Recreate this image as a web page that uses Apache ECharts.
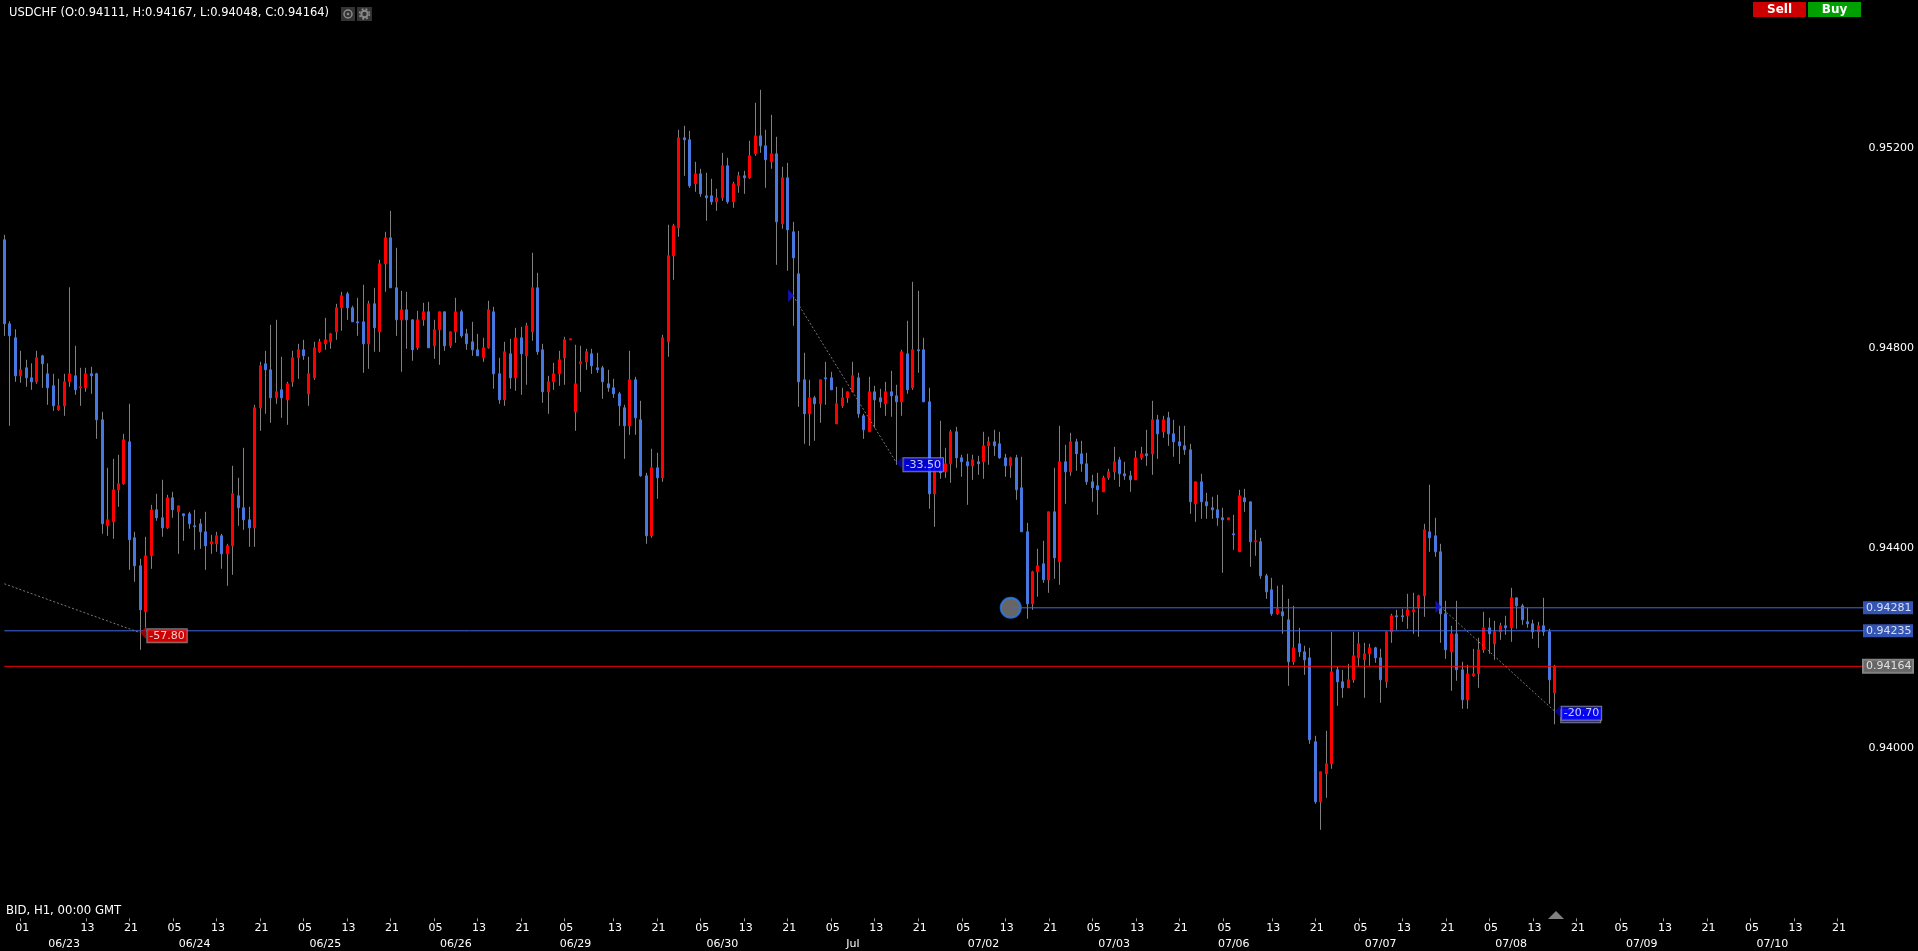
<!DOCTYPE html>
<html><head><meta charset="utf-8">
<style>html,body{margin:0;padding:0;background:#000;overflow:hidden}#c{width:1918px;height:951px}</style>
<script src="https://cdn.jsdelivr.net/npm/echarts@6/dist/echarts.min.js"></script>
</head><body><div id="c"></div>
<script>
const opens=[0.95017,0.94849,0.94821,0.94745,0.94761,0.94741,0.94733,0.94785,0.94749,0.94725,
0.94677,0.94685,0.94733,0.94745,0.94721,0.94721,0.94749,0.94749,0.94657,0.94445,
0.94453,0.94517,0.94529,0.94613,0.94421,0.94365,0.94273,0.94385,0.94477,0.94461,
0.94441,0.94501,0.94473,0.94469,0.94469,0.94445,0.94449,0.94433,0.94409,0.94409,
0.94425,0.94389,0.94405,0.94505,0.94481,0.94457,0.94441,0.94681,0.94769,0.94757,
0.94701,0.94717,0.94697,0.94733,0.94781,0.94797,0.94709,0.94741,0.94793,0.94809,
0.94813,0.94833,0.94881,0.94909,0.94881,0.94853,0.94853,0.94809,0.94889,0.94833,
0.94969,0.95021,0.94921,0.94857,0.94877,0.94857,0.94801,0.94857,0.94873,0.94805,
0.94837,0.94873,0.94805,0.94833,0.94873,0.94829,0.94813,0.94797,0.94781,0.94801,
0.94873,0.94749,0.94697,0.94789,0.94741,0.94821,0.94785,0.94833,0.94921,0.94797,
0.94713,0.94733,0.94749,0.94781,0.94817,0.94673,0.94769,0.94773,0.94789,0.94761,
0.94761,0.94729,0.94721,0.94709,0.94681,0.94645,0.94737,0.94657,0.94545,0.94425,
0.94561,0.94541,0.94813,0.94985,0.95041,0.95221,0.95217,0.95129,0.95149,0.95105,
0.95105,0.95093,0.95101,0.95165,0.95093,0.95125,0.95145,0.95141,0.95189,0.95225,
0.95205,0.95173,0.95189,0.95049,0.95141,0.95033,0.94949,0.94737,0.94669,0.94701,
0.94689,0.94741,0.94741,0.94649,0.94685,0.94701,0.94713,0.94741,0.94665,0.94633,
0.94713,0.94701,0.94689,0.94713,0.94705,0.94693,0.94789,0.94721,0.94797,0.94797,
0.94693,0.94509,0.94557,0.94553,0.94569,0.94633,0.94581,0.94573,0.94565,0.94573,
0.94573,0.94605,0.94613,0.94609,0.94581,0.94565,0.94581,0.94521,0.94433,0.94289,
0.94353,0.94369,0.94337,0.94473,0.94373,0.94573,0.94553,0.94613,0.94589,0.94569,
0.94533,0.94525,0.94513,0.94541,0.94553,0.94577,0.94549,0.94545,0.94537,0.94581,
0.94589,0.94589,0.94657,0.94633,0.94661,0.94629,0.94613,0.94605,0.94597,0.94489,
0.94533,0.94493,0.94481,0.94477,0.94461,0.94457,0.94429,0.94393,0.94501,0.94493,
0.94413,0.94413,0.94345,0.94317,0.94269,0.94273,0.94257,0.94173,0.94209,0.94193,
0.94181,0.94013,0.93893,0.93949,0.93969,0.94157,0.94133,0.94121,0.94137,0.94181,
0.94177,0.94189,0.94201,0.94181,0.94133,0.94233,0.94265,0.94265,0.94265,0.94273,
0.94281,0.94305,0.94433,0.94425,0.94393,0.94269,0.94193,0.94229,0.94157,0.94097,
0.94145,0.94149,0.94197,0.94241,0.94209,0.94233,0.94245,0.94241,0.94301,0.94285,
0.94253,0.94249,0.94233,0.94245,0.94233,0.94111];
const highs=[0.95027,0.94854,0.94838,0.94795,0.94777,0.94770,0.94795,0.94787,0.94770,0.94749,
0.94739,0.94749,0.94922,0.94805,0.94761,0.94761,0.94763,0.94751,0.94673,0.94561,
0.94579,0.94587,0.94629,0.94689,0.94433,0.94379,0.94423,0.94487,0.94509,0.94537,
0.94507,0.94513,0.94485,0.94469,0.94473,0.94477,0.94459,0.94473,0.94427,0.94433,
0.94429,0.94409,0.94565,0.94541,0.94601,0.94483,0.94687,0.94773,0.94795,0.94847,
0.94857,0.94783,0.94733,0.94795,0.94809,0.94817,0.94783,0.94813,0.94819,0.94861,
0.94831,0.94889,0.94913,0.94913,0.94885,0.94901,0.94927,0.94895,0.94921,0.94977,
0.95033,0.95075,0.95001,0.94915,0.94913,0.94857,0.94875,0.94891,0.94893,0.94857,
0.94873,0.94873,0.94833,0.94901,0.94877,0.94839,0.94853,0.94829,0.94821,0.94895,
0.94883,0.94781,0.94813,0.94819,0.94841,0.94843,0.94851,0.94991,0.94951,0.94809,
0.94745,0.94771,0.94795,0.94823,0.94819,0.94807,0.94805,0.94799,0.94799,0.94791,
0.94765,0.94757,0.94739,0.94713,0.94687,0.94795,0.94743,0.94695,0.94551,0.94599,
0.94591,0.94827,0.95047,0.95049,0.95237,0.95245,0.95235,0.95173,0.95159,0.95151,
0.95139,0.95119,0.95191,0.95181,0.95133,0.95153,0.95155,0.95215,0.95291,0.95317,
0.95237,0.95267,0.95223,0.95163,0.95171,0.95053,0.95035,0.94791,0.94737,0.94705,
0.94737,0.94773,0.94753,0.94723,0.94721,0.94713,0.94773,0.94751,0.94669,0.94743,
0.94725,0.94719,0.94733,0.94755,0.94727,0.94797,0.94855,0.94933,0.94915,0.94821,
0.94721,0.94577,0.94655,0.94601,0.94637,0.94643,0.94587,0.94589,0.94587,0.94585,
0.94633,0.94623,0.94637,0.94633,0.94589,0.94583,0.94587,0.94583,0.94451,0.94355,
0.94399,0.94415,0.94473,0.94561,0.94645,0.94607,0.94631,0.94619,0.94615,0.94591,
0.94547,0.94551,0.94545,0.94559,0.94603,0.94583,0.94573,0.94555,0.94595,0.94603,
0.94637,0.94695,0.94667,0.94665,0.94673,0.94657,0.94645,0.94645,0.94609,0.94533,
0.94549,0.94511,0.94503,0.94507,0.94481,0.94461,0.94467,0.94517,0.94519,0.94493,
0.94437,0.94421,0.94349,0.94341,0.94325,0.94327,0.94299,0.94285,0.94241,0.94205,
0.94201,0.94025,0.93953,0.94035,0.94233,0.94163,0.94157,0.94169,0.94233,0.94233,
0.94211,0.94209,0.94203,0.94199,0.94233,0.94269,0.94277,0.94279,0.94309,0.94311,
0.94307,0.94449,0.94527,0.94461,0.94409,0.94295,0.94245,0.94295,0.94173,0.94167,
0.94199,0.94221,0.94273,0.94261,0.94255,0.94251,0.94265,0.94321,0.94301,0.94289,
0.94281,0.94257,0.94253,0.94301,0.94239,0.94167];
const lows=[0.94825,0.94645,0.94733,0.94731,0.94723,0.94717,0.94729,0.94721,0.94687,0.94675,
0.94675,0.94665,0.94723,0.94707,0.94685,0.94713,0.94709,0.94619,0.94429,0.94425,
0.94419,0.94483,0.94527,0.94357,0.94333,0.94197,0.94237,0.94359,0.94455,0.94423,
0.94439,0.94461,0.94389,0.94415,0.94439,0.94397,0.94399,0.94357,0.94389,0.94393,
0.94359,0.94325,0.94347,0.94445,0.94437,0.94403,0.94403,0.94635,0.94669,0.94651,
0.94689,0.94661,0.94647,0.94723,0.94739,0.94777,0.94685,0.94737,0.94791,0.94797,
0.94799,0.94817,0.94835,0.94857,0.94853,0.94825,0.94751,0.94759,0.94793,0.94793,
0.94913,0.94921,0.94825,0.94753,0.94799,0.94775,0.94797,0.94845,0.94801,0.94779,
0.94767,0.94795,0.94801,0.94811,0.94821,0.94797,0.94785,0.94785,0.94773,0.94799,
0.94719,0.94689,0.94685,0.94719,0.94715,0.94707,0.94727,0.94815,0.94787,0.94691,
0.94669,0.94717,0.94725,0.94727,0.94817,0.94635,0.94713,0.94757,0.94749,0.94751,
0.94699,0.94713,0.94701,0.94645,0.94579,0.94627,0.94627,0.94543,0.94409,0.94421,
0.94499,0.94533,0.94783,0.94937,0.95023,0.95145,0.95121,0.95113,0.95103,0.95055,
0.95087,0.95075,0.95095,0.95089,0.95081,0.95111,0.95109,0.95139,0.95185,0.95191,
0.95121,0.95159,0.94967,0.95039,0.94955,0.94845,0.94683,0.94609,0.94605,0.94615,
0.94651,0.94687,0.94717,0.94649,0.94681,0.94691,0.94713,0.94661,0.94619,0.94633,
0.94641,0.94681,0.94665,0.94663,0.94567,0.94665,0.94709,0.94717,0.94751,0.94693,
0.94479,0.94443,0.94539,0.94541,0.94531,0.94561,0.94543,0.94487,0.94537,0.94547,
0.94539,0.94567,0.94585,0.94579,0.94543,0.94541,0.94497,0.94433,0.94259,0.94277,
0.94303,0.94331,0.94311,0.94339,0.94327,0.94489,0.94545,0.94555,0.94553,0.94527,
0.94493,0.94467,0.94513,0.94537,0.94537,0.94523,0.94537,0.94513,0.94537,0.94577,
0.94565,0.94547,0.94579,0.94621,0.94605,0.94583,0.94569,0.94587,0.94469,0.94453,
0.94459,0.94459,0.94459,0.94445,0.94351,0.94457,0.94397,0.94393,0.94473,0.94363,
0.94385,0.94339,0.94299,0.94265,0.94267,0.94229,0.94125,0.94167,0.94183,0.94147,
0.94009,0.93889,0.93837,0.93901,0.93959,0.94085,0.94101,0.94121,0.94131,0.94163,
0.94101,0.94165,0.94171,0.94091,0.94121,0.94211,0.94237,0.94253,0.94239,0.94229,
0.94223,0.94263,0.94393,0.94383,0.94211,0.94179,0.94115,0.94135,0.94079,0.94079,
0.94143,0.94121,0.94191,0.94189,0.94177,0.94217,0.94227,0.94213,0.94239,0.94247,
0.94241,0.94219,0.94201,0.94225,0.94089,0.94048];
const closes=[0.94849,0.94825,0.94745,0.94757,0.94741,0.94733,0.94781,0.94769,0.94721,0.94685,
0.94685,0.94733,0.94749,0.94717,0.94723,0.94749,0.94745,0.94657,0.94449,0.94457,
0.94517,0.94529,0.94617,0.94417,0.94365,0.94277,0.94385,0.94477,0.94461,0.94441,
0.94501,0.94477,0.94485,0.94465,0.94449,0.94443,0.94433,0.94405,0.94413,0.94425,
0.94389,0.94405,0.94509,0.94481,0.94457,0.94441,0.94681,0.94765,0.94757,0.94701,
0.94713,0.94701,0.94729,0.94781,0.94797,0.94785,0.94749,0.94801,0.94813,0.94817,
0.94829,0.94881,0.94905,0.94881,0.94853,0.94851,0.94809,0.94889,0.94841,0.94969,
0.95021,0.94921,0.94857,0.94877,0.94857,0.94797,0.94857,0.94873,0.94801,0.94837,
0.94873,0.94805,0.94833,0.94873,0.94825,0.94809,0.94797,0.94785,0.94801,0.94877,
0.94749,0.94697,0.94793,0.94741,0.94821,0.94789,0.94845,0.94921,0.94793,0.94713,
0.94733,0.94749,0.94777,0.94817,0.94819,0.94729,0.94773,0.94793,0.94765,0.94757,
0.94733,0.94721,0.94709,0.94685,0.94645,0.94737,0.94661,0.94545,0.94425,0.94561,
0.94541,0.94821,0.94985,0.95045,0.95221,0.95217,0.95125,0.95149,0.95109,0.95101,
0.95093,0.95101,0.95165,0.95093,0.95129,0.95145,0.95141,0.95185,0.95225,0.95205,
0.95177,0.95189,0.95053,0.95141,0.95037,0.94981,0.94733,0.94669,0.94701,0.94689,
0.94737,0.94739,0.94717,0.94689,0.94701,0.94713,0.94745,0.94669,0.94637,0.94713,
0.94697,0.94693,0.94713,0.94705,0.94693,0.94793,0.94717,0.94797,0.94795,0.94693,
0.94509,0.94553,0.94551,0.94569,0.94633,0.94581,0.94573,0.94565,0.94577,0.94569,
0.94605,0.94613,0.94605,0.94581,0.94565,0.94581,0.94517,0.94433,0.94289,0.94353,
0.94365,0.94337,0.94473,0.94381,0.94573,0.94553,0.94613,0.94589,0.94569,0.94533,
0.94521,0.94517,0.94541,0.94553,0.94573,0.94549,0.94545,0.94537,0.94581,0.94589,
0.94585,0.94657,0.94629,0.94657,0.94629,0.94613,0.94605,0.94597,0.94493,0.94533,
0.94493,0.94485,0.94477,0.94461,0.94457,0.94461,0.94427,0.94505,0.94493,0.94413,
0.94415,0.94345,0.94313,0.94269,0.94279,0.94265,0.94173,0.94201,0.94193,0.94177,
0.94017,0.93893,0.93953,0.93969,0.94153,0.94133,0.94121,0.94137,0.94185,0.94209,
0.94189,0.94201,0.94181,0.94137,0.94233,0.94265,0.94263,0.94263,0.94277,0.94277,
0.94305,0.94437,0.94421,0.94393,0.94269,0.94197,0.94229,0.94157,0.94097,0.94149,
0.94149,0.94197,0.94241,0.94229,0.94233,0.94245,0.94241,0.94301,0.94285,0.94257,
0.94249,0.94233,0.94245,0.94233,0.94137,0.94164];

const hourTickIndex=[3,15,23,31,39,47,55,63,71,79,87,95,103,112,120,128,136,144,152,160,168,176,184,192,200,208,216,224,233,241,249,257,265,273,281,289,297,305,313,321,329,337];
const hourTickText=['01','13','21','05','13','21','05','13','21','05','13','21','05','13','21','05','13','21','05','13','21','05','13','21','05','13','21','05','13','21','05','13','21','05','13','21','05','13','21','05','13','21'];
const dayLabelIndex=[11,35,59,83,105,132,156,180,204,226,253,277,301,325];
const dayLabelText=['06/23','06/24','06/25','06/26','06/29','06/30','Jul','07/02','07/03','07/06','07/07','07/08','07/09','07/10'];
const priceTicks=[0.94,0.944,0.948,0.952];
const lineBid=0.94164, lineOrderA=0.94235, lineOrderB=0.94281, circleIndex=185;
const trendA=[[0,0.94329],[25,0.94231]];
const trendB=[[145,0.94905],[164,0.94571]];
const trendC=[[264,0.94283],[285,0.94074]];
const slotCount=343;

const FONT='"DejaVu Sans"';
const BLUE='#4678e0',ROYAL='#4169e1',RED='#ff0000',GRAY='#808080';
const hourCats=new Array(slotCount).fill(''), dayCats=new Array(slotCount).fill('');
hourTickIndex.forEach((i,k)=>hourCats[i]=hourTickText[k]);
dayLabelIndex.forEach((i,k)=>dayCats[i]=dayLabelText[k]);
const wicks=opens.map((o,i)=>[i,highs[i],lows[i]]);
const bodies=opens.map((o,i)=>[o,closes[i],Math.min(o,closes[i]),Math.max(o,closes[i])]);
const last=slotCount-1;

function renderWick(params,api){
  const top=api.coord([api.value(0),api.value(1)]), bottom=api.coord([api.value(0),api.value(2)]);
  const x=Math.floor(top[0])+0.5;
  return {type:'line',shape:{x1:x,y1:top[1],x2:x,y2:bottom[1]},style:{stroke:GRAY,lineWidth:1},silent:true};
}
function trend(d){return {type:'line',data:d,symbol:'none',silent:true,animation:false,z:6,
  lineStyle:{color:'#7a7a7a',width:1,type:[2,2]}};}
function segment(from,price,color){return {type:'line',data:[[from,price],[last,price]],symbol:'none',silent:true,animation:false,z:5,
  lineStyle:{color:color,width:1}};}
function tag(point,text,bg,off){return {type:'scatter',data:[point],symbol:'triangle',symbolRotate:90,symbolSize:[13,6],symbolOffset:[3,0],
  itemStyle:{color:bg==='#ff0000'?'#c00000':'#0000b0'},z:8,silent:true,animation:false,clip:false,
  label:{show:true,position:'right',distance:0,offset:off,formatter:text,color:'#fff',backgroundColor:bg,borderColor:'#9a9a9a',borderWidth:1,
    fontFamily:FONT,fontSize:11,padding:[1,2,0,2],height:12,lineHeight:12}};}
function start(point){return {type:'scatter',data:[point],symbol:'triangle',symbolRotate:-90,symbolSize:[13,6],symbolOffset:[-2,0],
  itemStyle:{color:'#1414e0'},z:8,silent:true,animation:false};}
function priceTag(price,bg,bc,fg){return {type:'scatter',data:[[last,price]],symbolSize:1,itemStyle:{color:'transparent'},z:9,silent:true,animation:false,clip:false,
  label:{show:true,position:'right',distance:0,offset:[-2.3,0],formatter:price.toFixed(5),color:fg,backgroundColor:bg,borderColor:bc,borderWidth:bc==='transparent'?0:1,
    fontFamily:FONT,fontSize:11,padding:[0,3,0,3],width:44,height:13,lineHeight:13}};}

const chart=echarts.init(document.getElementById('c'),null,{renderer:'canvas'});
chart.setOption({
  animation:false,backgroundColor:'#000',
  title:[
    {text:'USDCHF (O:0.94111, H:0.94167, L:0.94048, C:0.94164)',left:9,top:6,textStyle:{color:'#fff',fontFamily:FONT,fontSize:11.5,fontWeight:'normal',lineHeight:14},padding:0},
    {text:'BID, H1, 00:00 GMT',left:6,top:904,textStyle:{color:'#fff',fontFamily:FONT,fontSize:11.7,fontWeight:'normal',lineHeight:13},padding:0}
  ],
  grid:{left:1.6,top:8.3,width:1865.92,height:910,containLabel:false},
  xAxis:[
    {type:'category',gridIndex:0,data:hourCats,boundaryGap:true,position:'bottom',axisLine:{show:false},
     axisTick:{show:true,alignWithLabel:true,length:3,interval:(i,v)=>v!=='',lineStyle:{color:'#999'}},
     axisLabel:{interval:(i,v)=>v!=='',color:'#fff',fontFamily:FONT,fontSize:11,margin:4,padding:[0,0,0,3],hideOverlap:false},splitLine:{show:false}},
    {type:'category',gridIndex:0,data:dayCats,boundaryGap:true,position:'bottom',offset:17,axisLine:{show:false},axisTick:{show:false},
     axisLabel:{interval:(i,v)=>v!=='',color:'#fff',fontFamily:FONT,fontSize:11,margin:3,hideOverlap:false},splitLine:{show:false}}
  ],
  yAxis:{type:'value',position:'right',min:0.9366,max:0.9548,splitLine:{show:false},axisLine:{show:false},axisTick:{show:false},
    axisLabel:{customValues:priceTicks,formatter:v=>v.toFixed(5),color:'#fff',fontFamily:FONT,fontSize:11,margin:1,padding:[4,0,0,0]}},
  series:[
    {type:'custom',name:'wicks',data:wicks,renderItem:renderWick,encode:{x:0,y:[1,2]},silent:true,z:2,animation:false,clip:false},
    {type:'candlestick',name:'USDCHF',data:bodies,barWidth:2.5,silent:true,z:3,animation:false,
     itemStyle:{color:RED,color0:BLUE,borderColor:RED,borderColor0:BLUE,borderWidth:1}},
    segment(0,lineOrderA,ROYAL),
    segment(circleIndex,lineOrderB,ROYAL),
    segment(0,lineBid,RED),
    trend(trendA),trend(trendB),trend(trendC),
    {type:'scatter',data:[[circleIndex,lineOrderB]],symbol:'circle',symbolSize:20,z:4,silent:true,animation:false,
     itemStyle:{color:GRAY,borderColor:'#2a80f0',borderWidth:2}},
    start(trendB[0]),start(trendC[0]),
    tag(trendA[1],'-57.80','#ff0000',[1,3]),
    tag(trendB[1],'-33.50','#0000ff',[1,2]),
    {type:'scatter',data:[trendC[1]],symbolSize:1,itemStyle:{color:'transparent'},z:7,silent:true,animation:false,
     label:{show:true,position:'right',distance:0,offset:[6,5],formatter:' ',backgroundColor:'#1a1ae0',borderColor:'#9a9a9a',borderWidth:1,width:35,height:12,padding:[0,2,0,2]}},
    tag(trendC[1],'-20.70','#0000ff',[1,2]),
    priceTag(lineOrderB,ROYAL,'transparent','#fff'),
    priceTag(lineOrderA,ROYAL,'transparent','#fff'),
    priceTag(lineBid,GRAY,'#a8a8a8','#fff')
  ],
  graphic:[
    {type:'rect',shape:{x:1753,y:2,width:53,height:15},style:{fill:'#cc0000'},silent:true},
    {type:'text',x:1779.5,y:9.5,style:{text:'Sell',fill:'#fff',font:'bold 12px "DejaVu Sans"',textAlign:'center',textVerticalAlign:'middle'},silent:true},
    {type:'rect',shape:{x:1808,y:2,width:53,height:15},style:{fill:'#00a000'},silent:true},
    {type:'text',x:1834.5,y:9.5,style:{text:'Buy',fill:'#fff',font:'bold 12px "DejaVu Sans"',textAlign:'center',textVerticalAlign:'middle'},silent:true},
    {type:'rect',shape:{x:341,y:7,width:14,height:14},style:{fill:'#333'},silent:true},
    {type:'circle',shape:{cx:348,cy:14,r:4},style:{fill:'none',stroke:'#8a8a8a',lineWidth:1.5},silent:true},
    {type:'circle',shape:{cx:348,cy:14,r:1.3},style:{fill:'#8a8a8a'},silent:true},
    {type:'rect',shape:{x:357,y:7,width:15,height:14},style:{fill:'#333'},silent:true},
    {type:'circle',shape:{cx:364.5,cy:14,r:3.2},style:{fill:'none',stroke:'#8a8a8a',lineWidth:2},silent:true},
    {type:'circle',shape:{cx:364.5,cy:14,r:5},style:{fill:'none',stroke:'#8a8a8a',lineWidth:1.5,lineDash:[2,2]},silent:true},
    {type:'polygon',shape:{points:[[1548,919],[1564,919],[1556,911]]},style:{fill:'#808080'},silent:true}
  ]
});
</script></body></html>
